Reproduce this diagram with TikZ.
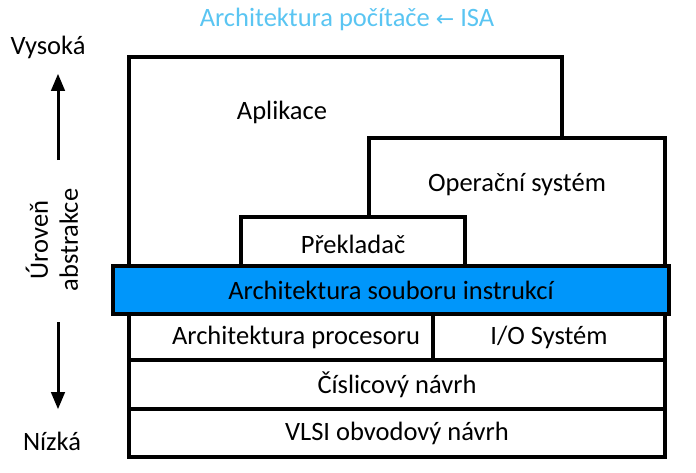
\documentclass[tikz,border=0pt]{standalone}
\usepackage{fontspec}
\setmainfont{Carlito}
\newfontfamily\symfont{DejaVu Sans}
\usetikzlibrary{arrows}
\definecolor{isablue}{RGB}{0,150,250}
\definecolor{titleblue}{RGB}{90,197,242}
\newcommand{\lbl}{\fontsize{26.5}{30}\selectfont}

\begin{document}
\begin{tikzpicture}
[
x=1pt, y=-1pt, >=triangle 45,
layer/.style = {draw, line width=3.2pt, fill=white, rectangle, anchor=north west, inner sep=0pt, outer sep=0pt, font=\lbl},
txt/.style   = {font=\lbl, inner sep=0pt},
]
\useasboundingbox (0,0) rectangle (696,472);
\node[txt, text=titleblue] (title) at (347,19) {Architektura počítače {\symfont\fontsize{22}{26}\selectfont ←} ISA};

% upper layers
\node[layer, minimum width=433pt, minimum height=209pt] (apl) at (129,57) {};
\node[txt] (apltxt) at (282,112) {Aplikace};
\node[layer, minimum width=296pt, minimum height=128pt] (os) at (369,138) {};
\node[txt] (ostxt) at (517,185) {Operační systém};
\node[layer, minimum width=224pt, minimum height=49pt] (comp) at (241,217) {};
\node[txt] (comptxt) at (353,244) {Překladač};

% ISA and lower layers
\node[layer, fill=isablue, minimum width=556pt, minimum height=48pt] (isa) at (113,266) {Architektura souboru instrukcí};
\node[layer, minimum width=304pt, minimum height=46pt] (cpu) at (129,314) {\hspace*{30pt}Architektura procesoru};
\node[layer, minimum width=232pt, minimum height=46pt] (io) at (433,314) {I/O Systém};
\node[layer, minimum width=536pt, minimum height=49pt] (dig) at (129,360) {Číslicový návrh};
\node[layer, minimum width=536pt, minimum height=48pt] (vlsi) at (129,409) {VLSI obvodový návrh};

% abstraction axis
\node[txt] (high) at (48,47) {Vysoká};
\node[txt] (low) at (52,441) {Nízká};
\node[txt, rotate=90, align=center] (level) at (52,240) {Úroveň\\abstrakce};
\coordinate (upfrom) at (58,160);
\coordinate (upto) at (58,74);
\coordinate (downfrom) at (58,322);
\coordinate (downto) at (58,409);
\draw[->, line width=3pt] (upfrom) -- (upto);
\draw[->, line width=3pt] (downfrom) -- (downto);
\end{tikzpicture}
\end{document}
